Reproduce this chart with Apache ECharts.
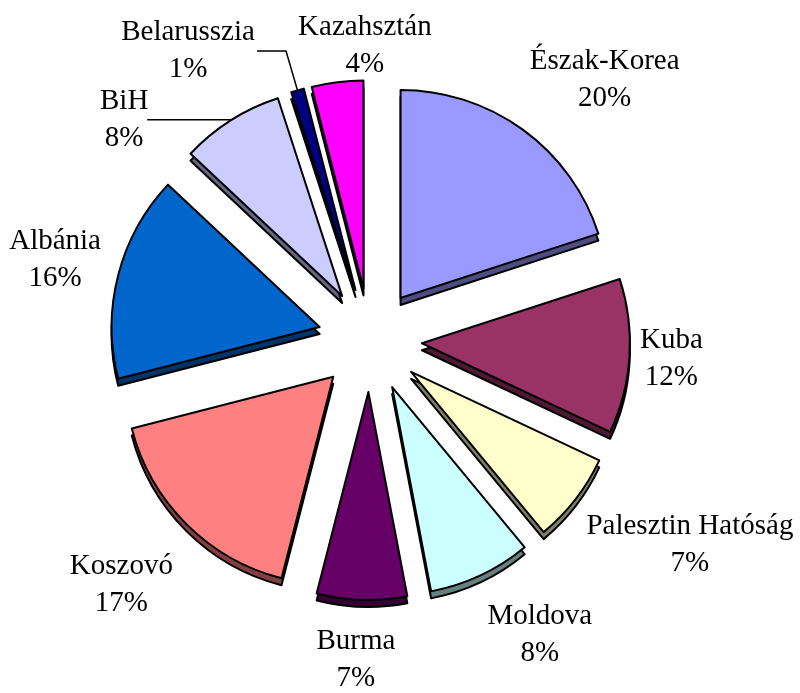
<!DOCTYPE html>
<html>
<head>
<meta charset="utf-8">
<title>Pie</title>
<script src="https://cdn.jsdelivr.net/npm/echarts@6/dist/echarts.min.js"></script>
<style>
  html, body { margin: 0; padding: 0; background: #fff; }
  #main { width: 800px; height: 693px; }
</style>
</head>
<body>
<div id="main"></div>
<script>
// adatok
var categories = ['Észak-Korea', 'Kuba', 'Palesztin Hatóság', 'Moldova', 'Burma',
                  'Koszovó', 'Albánia', 'BiH', 'Belarusszia', 'Kazahsztán'];
var values = [20, 12, 7, 8, 7, 17, 16, 8, 1, 4];
var colors = ['#9999FF', '#993366', '#FFFFCC', '#CCFFFF', '#660066',
              '#FF8080', '#0066CC', '#CCCCFF', '#000080', '#FF00FF'];

// címkék elhelyezése: [length, length2, távolság, vonal látszik]
var labelPlace = [
  [61, 42, 4, false],
  [38, 0, 4, false],
  [74, 52, 4, false],
  [66, 27, 4, false],
  [60, 0, 4, false],
  [86, 0, 4, false],
  [61, 0, 4, false],
  [1, 83, 23, true],
  [41, 29, 69, true],
  [36, -36, 4, false]
];

// oldallap színe (3D hatás)
function darker(hex) {
  var n = parseInt(hex.slice(1), 16);
  var r = (n >> 16) & 255, g = (n >> 8) & 255, b = n & 255;
  return 'rgb(' + Math.round(r * 0.5) + ',' + Math.round(g * 0.5) + ',' + Math.round(b * 0.5) + ')';
}

var topData = [], sideData = [];
for (var i = 0; i < categories.length; i++) {
  var lp = labelPlace[i];
  topData.push({
    name: categories[i],
    value: values[i],
    selected: true,
    itemStyle: { color: colors[i] },
    label: { distanceToLabelLine: lp[2] },
    labelLine: { show: lp[3], length: lp[0], length2: lp[1] }
  });
  sideData.push({
    name: categories[i],
    value: values[i],
    selected: true,
    itemStyle: { color: darker(colors[i]) }
  });
}

var chart = echarts.init(document.getElementById('main'));
var option = {
  animation: false,
  series: [
    {
      // oldallap, kicsit lejjebb
      type: 'pie',
      z: 1,
      center: [370, 347],
      radius: [0, 208],
      startAngle: 90,
      selectedMode: 'multiple',
      selectedOffset: 52,
      avoidLabelOverlap: false,
      silent: true,
      itemStyle: { borderColor: '#000', borderWidth: 2 },
      select: { itemStyle: { borderColor: '#000', borderWidth: 2 } },
      label: { show: false },
      labelLine: { show: false },
      data: sideData
    },
    {
      type: 'pie',
      z: 2,
      center: [370, 340],
      radius: [0, 208],
      startAngle: 90,
      selectedMode: 'multiple',
      selectedOffset: 52,
      avoidLabelOverlap: false,
      minShowLabelAngle: 0,
      itemStyle: { borderColor: '#000', borderWidth: 2 },
      select: { itemStyle: { borderColor: '#000', borderWidth: 2 } },
      label: {
        show: true,
        position: 'outside',
        formatter: '{b}\n{d}%',
        fontFamily: 'Liberation Serif',
        fontSize: 29,
        lineHeight: 37,
        color: '#000'
      },
      labelLayout: function () {
        return { align: 'center', hideOverlap: false };
      },
      labelLine: {
        lineStyle: { color: '#000', width: 1.5 }
      },
      data: topData
    }
  ]
};
chart.setOption(option);
</script>
</body>
</html>
